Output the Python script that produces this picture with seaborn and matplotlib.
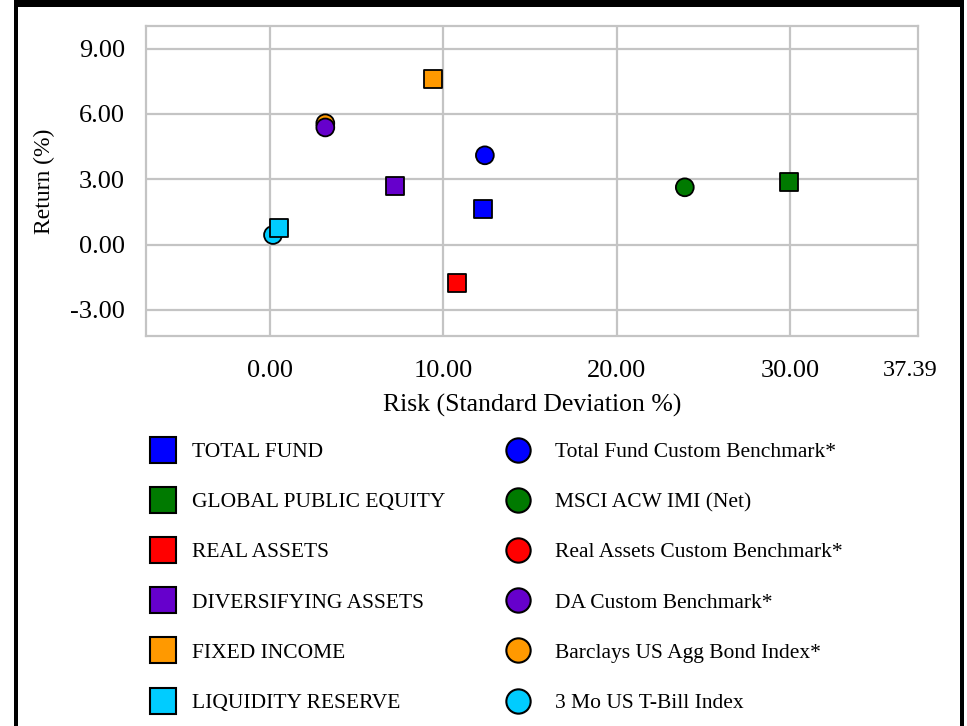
import numpy as np
import pandas as pd
import matplotlib
matplotlib.use("Agg")
import matplotlib.pyplot as plt
import matplotlib.transforms as mtransforms
from matplotlib.lines import Line2D
from matplotlib.patches import Rectangle
import seaborn as sns

# Portfolio composites (squares)
fund_names = ["TOTAL FUND", "GLOBAL PUBLIC EQUITY", "REAL ASSETS",
              "DIVERSIFYING ASSETS", "FIXED INCOME", "LIQUIDITY RESERVE"]
fund_risk = [12.29, 29.92, 10.77, 7.18, 9.38, 0.50]
fund_return = [1.62, 2.88, -1.78, 2.70, 7.59, 0.77]

# Benchmarks (circles); Real Assets benchmark has no plotted value
bench_names = ["Total Fund Custom Benchmark*", "MSCI ACW IMI (Net)",
               "Real Assets Custom Benchmark*", "DA Custom Benchmark*",
               "Barclays US Agg Bond Index*", "3 Mo US T-Bill Index"]
bench_risk = [12.39, 23.93, np.nan, 3.18, 3.18, 0.16]
bench_return = [4.10, 2.63, np.nan, 5.38, 5.57, 0.44]

colors = ["#0000FF", "#007A00", "#FF0000", "#6600CC", "#FF9900", "#00CCFF"]

x_ticks = [0.0, 10.0, 20.0, 30.0, 37.39]
y_ticks = [-3.0, 0.0, 3.0, 6.0, 9.0]

sns.set_theme(style="white")
plt.rcParams["font.family"] = ["Liberation Serif", "DejaVu Serif"]
plt.rcParams["text.color"] = "black"
plt.rcParams["axes.labelcolor"] = "black"

# benchmarks first (reverse order) so composites sit on top
rows = []
for name, rx, ry, c in reversed(list(zip(bench_names, bench_risk, bench_return, colors))):
    rows.append(dict(name=name, risk=rx, ret=ry, color=c, kind="bench"))
for name, rx, ry, c in zip(fund_names, fund_risk, fund_return, colors):
    rows.append(dict(name=name, risk=rx, ret=ry, color=c, kind="fund"))
df = pd.DataFrame(rows)
plot_df = df.dropna(subset=["risk", "ret"])

palette = dict(zip(df["name"], df["color"]))
marker_map = {n: ("o" if k == "bench" else "s") for n, k in zip(df["name"], df["kind"])}

fig = plt.figure(figsize=(9.67, 7.26), dpi=100)
ax = fig.add_axes([146 / 967, 1 - 336 / 726, (918 - 146) / 967, (336 - 26) / 726])

sns.scatterplot(data=plot_df, x="risk", y="ret", hue="name", style="name",
                palette=palette, markers=marker_map, s=165,
                edgecolor="black", linewidth=1.3, legend=False, ax=ax, zorder=3)

grid_c = "#C4C4C4"
ax.set_xlim(-7.17, 37.39)
ax.set_ylim(-4.20, 10.04)
ax.set_xticks(x_ticks)
ax.set_xticklabels([f"{v:.2f}" for v in x_ticks])
ax.set_yticks(y_ticks)
ax.set_yticklabels([f"{v:.2f}" for v in y_ticks])
ax.grid(True, color=grid_c, linewidth=1.6)
ax.set_axisbelow(True)
for sp in ax.spines.values():
    sp.set_color(grid_c)
    sp.set_linewidth(1.6)
ax.tick_params(axis="both", which="major", direction="out", length=8.5,
               width=1.2, color=grid_c, labelsize=19, labelcolor="black")
ax.tick_params(axis="y", pad=6.5)
ax.tick_params(axis="x", pad=9)
last = ax.xaxis.get_major_ticks()[-1]
last.tick1line.set_visible(False)
last.gridline.set_visible(False)
last.label1.set_fontsize(17.5)
last.label1.set_transform(last.label1.get_transform()
                          + mtransforms.ScaledTranslation(-8 / 100, 0, fig.dpi_scale_trans))

ax.set_xlabel("Risk (Standard Deviation %)", fontsize=18.5, labelpad=8)
ax.set_ylabel("Return (%)", fontsize=17, labelpad=11)

# legend: composites in the left column, benchmarks in the right
sq_handles = [Line2D([], [], linestyle="none", marker="s", markersize=19,
                     markerfacecolor=c, markeredgecolor="black",
                     markeredgewidth=1.5, label=n)
              for n, c in zip(fund_names, colors)]
ci_handles = [Line2D([], [], linestyle="none", marker="o", markersize=17.5,
                     markerfacecolor=c, markeredgecolor="black",
                     markeredgewidth=1.5, label=n)
              for n, c in zip(bench_names, colors)]
common = dict(frameon=False, fontsize=15.5, loc="upper left", borderpad=0,
              borderaxespad=0, handlelength=1.3, labelspacing=1.40)
fig.legend(handles=sq_handles, bbox_to_anchor=(149 / 967, 1 - 442 / 726),
           handletextpad=0.72, **common)
fig.legend(handles=ci_handles, bbox_to_anchor=(504 / 967, 1 - 442 / 726),
           handletextpad=1.05, **common)

# page frame
fig.add_artist(Rectangle((14 / 967, 1 - 7 / 726), 950 / 967, 7 / 726,
                         transform=fig.transFigure, color="black", lw=0))
fig.add_artist(Rectangle((14 / 967, 0), 4 / 967, 1,
                         transform=fig.transFigure, color="black", lw=0))
fig.add_artist(Rectangle((960 / 967, 0), 4 / 967, 1,
                         transform=fig.transFigure, color="black", lw=0))

fig.savefig("out.png", dpi=100)
